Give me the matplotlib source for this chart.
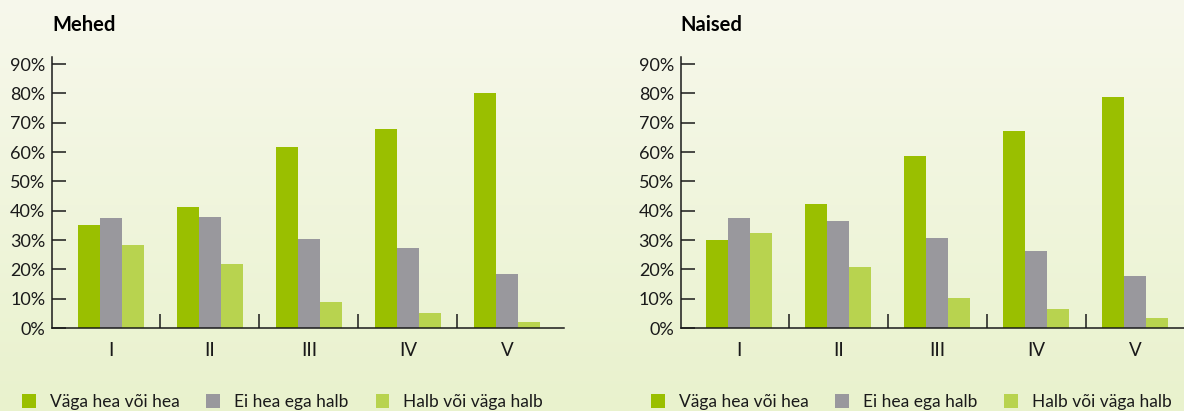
import matplotlib
matplotlib.use('Agg')
import matplotlib.pyplot as plt
import numpy as np

plt.rcParams['font.family'] = ['Lato', 'DejaVu Sans']

categories = ['I', 'II', 'III', 'IV', 'V']
series_names = ['Väga hea või hea', 'Ei hea ega halb', 'Halb või väga halb']
colors = ['#9abf00', '#99989d', '#b8d34f']

men = [
    [35.0, 41.2, 61.6, 68.0, 80.0],
    [37.4, 37.8, 30.3, 27.2, 18.4],
    [28.2, 21.8, 8.8, 5.1, 2.0],
]
women = [
    [29.9, 42.2, 58.5, 67.0, 78.6],
    [37.4, 36.4, 30.6, 26.2, 17.7],
    [32.3, 20.7, 10.2, 6.5, 3.4],
]
yticks = [0, 10, 20, 30, 40, 50, 60, 70, 80, 90]

W, H = 1184, 411
fig = plt.figure(figsize=(W / 100, H / 100), dpi=100)

# background gradient
bg = fig.add_axes([0, 0, 1, 1], zorder=-10)
grad = np.linspace(0, 1, 256).reshape(-1, 1)
top = np.array([0xf7, 0xf8, 0xec]) / 255
bot = np.array([0xe9, 0xf2, 0xcd]) / 255
img = top + (bot - top) * grad[:, :, None]
bg.imshow(img, aspect='auto', extent=[0, 1, 0, 1])
bg.axis('off')

x = np.arange(len(categories))
bw = 0.222


def panel(left_px, title, data, leg_x):
    ax = fig.add_axes([left_px / W, (H - 328) / H, 512 / W, (328 - 56.7) / H])
    ax.patch.set_alpha(0)
    for i, vals in enumerate(data):
        ax.bar(x + (i - 1) * bw, vals, bw, color=colors[i], label=series_names[i],
               linewidth=0)
    ax.set_xlim(-0.59, 4.58)
    ax.set_ylim(0, 92.5)
    ax.set_yticks(yticks)
    ax.set_yticklabels([f'{v}%' for v in yticks])
    ax.set_xticks(x)
    ax.set_xticklabels(categories)
    ax.set_xticks(x[:-1] + 0.5, minor=True)
    ax.tick_params(axis='x', which='major', length=0, pad=10, labelsize=13.5, colors='#1a1a1a')
    ax.tick_params(axis='x', which='minor', direction='in', length=10.3, width=1.1, color='#1a1a1a')
    ax.tick_params(axis='y', direction='in', length=10.4, width=1.1, pad=5, labelsize=13,
                   colors='#1a1a1a')
    for s in ['top', 'right']:
        ax.spines[s].set_visible(False)
    for s in ['left', 'bottom']:
        ax.spines[s].set_linewidth(1.1)
        ax.spines[s].set_color('#1a1a1a')
    fig.text(left_px / W, 1 - 25 / H, title, fontsize=14.5, fontweight='bold',
             ha='left', va='center', color='black')
    leg = ax.legend(loc='center left', bbox_to_anchor=(leg_x / W, 9 / H),
                    bbox_transform=fig.transFigure, ncol=3, frameon=False,
                    handlelength=0.8, handleheight=0.8, handletextpad=0.8,
                    columnspacing=1.55, borderpad=0, borderaxespad=0, fontsize=12.5)
    for t in leg.get_texts():
        t.set_color('#1a1a1a')
    return ax


panel(52.4, 'Mehed', men, 22)
panel(680.8, 'Naised', women, 651)

fig.savefig('out.png', dpi=100)
